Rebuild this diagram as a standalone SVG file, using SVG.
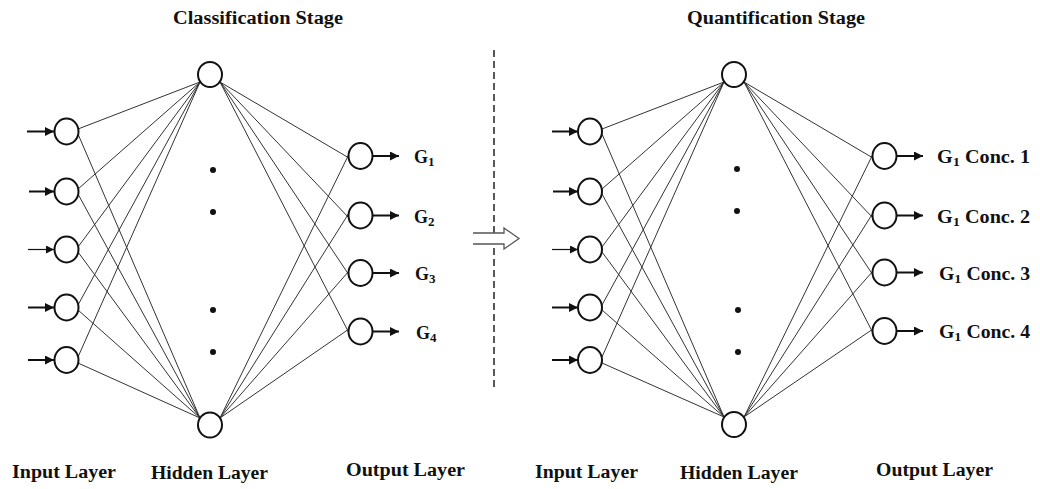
<svg xmlns="http://www.w3.org/2000/svg" width="1040" height="489" viewBox="0 0 1040 489">
  <style>
    .txt { font-family: "Liberation Serif", "Times New Roman", serif; font-weight: bold; fill: #111; }
    .title { font-size: 18px; }
    .lbl { font-size: 18px; }
    .node { fill: #fff; stroke: #111; stroke-width: 2; }
    .conn { stroke: #333; stroke-width: 1; fill: none; }
    .arr { stroke: #111; stroke-width: 2; fill: none; }
    .arrthin { stroke: #111; stroke-width: 1.2; fill: none; }
    .dot { fill: #111; }
  </style>
  <defs>
    <marker id="ah" markerWidth="9" markerHeight="9" refX="9" refY="4.5" orient="auto" markerUnits="userSpaceOnUse">
      <path d="M0,0 L9,4.5 L0,9 z" fill="#111"/>
    </marker>
    <marker id="ahs" markerWidth="8" markerHeight="8" refX="8" refY="4" orient="auto" markerUnits="userSpaceOnUse">
      <path d="M0,0 L8,4 L0,8 z" fill="#111"/>
    </marker>
  </defs>
  <rect width="1040" height="489" fill="#fff"/>

  <!-- Titles -->
  <text class="txt title" x="173" y="24" textLength="170" lengthAdjust="spacingAndGlyphs">Classification Stage</text>
  <text class="txt title" x="687" y="24" textLength="178" lengthAdjust="spacingAndGlyphs">Quantification Stage</text>

  <!-- Divider and stage arrow -->
  <g id="divider">
    <line x1="494" y1="50" x2="494" y2="390" stroke="#222" stroke-width="1.5" stroke-dasharray="7,4"/>
    <polygon points="473,233 504,233 504,228 519,238.5 504,249 504,244 473,244" fill="#fff" stroke="none"/>
    <path d="M473,233 H504 V228 L519,238.5 L504,249 V244 H473" fill="none" stroke="#555" stroke-width="1.3"/>
  </g>

  <!-- Connectors -->
  <g id="connectors">
    <!-- left network: inputs to hidden -->
    <line class="conn" x1="78" y1="129" x2="200" y2="82"/>
    <line class="conn" x1="78" y1="189" x2="200" y2="82"/>
    <line class="conn" x1="78" y1="247" x2="200" y2="82"/>
    <line class="conn" x1="78" y1="305" x2="200" y2="82"/>
    <line class="conn" x1="78" y1="357" x2="200" y2="82"/>
    <line class="conn" x1="78" y1="134" x2="200" y2="418"/>
    <line class="conn" x1="78" y1="194" x2="200" y2="418"/>
    <line class="conn" x1="78" y1="252" x2="200" y2="418"/>
    <line class="conn" x1="78" y1="310" x2="200" y2="418"/>
    <line class="conn" x1="78" y1="363" x2="200" y2="418"/>
    <!-- left network: hidden to outputs -->
    <line class="conn" x1="220" y1="82" x2="349" y2="158"/>
    <line class="conn" x1="220" y1="82" x2="349" y2="218"/>
    <line class="conn" x1="220" y1="82" x2="349" y2="275"/>
    <line class="conn" x1="220" y1="82" x2="349" y2="333"/>
    <line class="conn" x1="220" y1="418" x2="349" y2="154"/>
    <line class="conn" x1="220" y1="418" x2="349" y2="213"/>
    <line class="conn" x1="220" y1="418" x2="349" y2="271"/>
    <line class="conn" x1="220" y1="418" x2="349" y2="329"/>
    <!-- right network: inputs to hidden -->
    <line class="conn" x1="602" y1="129" x2="724" y2="82"/>
    <line class="conn" x1="602" y1="189" x2="724" y2="82"/>
    <line class="conn" x1="602" y1="247" x2="724" y2="82"/>
    <line class="conn" x1="602" y1="305" x2="724" y2="82"/>
    <line class="conn" x1="602" y1="357" x2="724" y2="82"/>
    <line class="conn" x1="602" y1="134" x2="724" y2="417"/>
    <line class="conn" x1="602" y1="194" x2="724" y2="417"/>
    <line class="conn" x1="602" y1="252" x2="724" y2="417"/>
    <line class="conn" x1="602" y1="310" x2="724" y2="417"/>
    <line class="conn" x1="602" y1="363" x2="724" y2="417"/>
    <!-- right network: hidden to outputs -->
    <line class="conn" x1="744" y1="82" x2="873" y2="158"/>
    <line class="conn" x1="744" y1="82" x2="873" y2="218"/>
    <line class="conn" x1="744" y1="82" x2="873" y2="275"/>
    <line class="conn" x1="744" y1="82" x2="873" y2="333"/>
    <line class="conn" x1="744" y1="417" x2="873" y2="154"/>
    <line class="conn" x1="744" y1="417" x2="873" y2="213"/>
    <line class="conn" x1="744" y1="417" x2="873" y2="271"/>
    <line class="conn" x1="744" y1="417" x2="873" y2="329"/>

    <!-- input arrows left -->
    <line class="arr" x1="27" y1="131.5" x2="54" y2="131.5" marker-end="url(#ah)"/>
    <line class="arr" x1="29" y1="191.5" x2="54" y2="191.5" marker-end="url(#ah)"/>
    <line class="arrthin" x1="28" y1="249.5" x2="54" y2="249.5" marker-end="url(#ahs)"/>
    <line class="arr" x1="28" y1="307.5" x2="54" y2="307.5" marker-end="url(#ah)"/>
    <line class="arr" x1="28" y1="360" x2="54" y2="360" marker-end="url(#ah)"/>
    <!-- output arrows left -->
    <line class="arr" x1="373" y1="156" x2="399" y2="156" marker-end="url(#ah)"/>
    <line class="arr" x1="373" y1="215.5" x2="399" y2="215.5" marker-end="url(#ah)"/>
    <line class="arr" x1="373" y1="273" x2="399" y2="273" marker-end="url(#ah)"/>
    <line class="arr" x1="373" y1="331.5" x2="399" y2="331.5" marker-end="url(#ah)"/>
    <!-- input arrows right -->
    <line class="arr" x1="552" y1="131.5" x2="578" y2="131.5" marker-end="url(#ah)"/>
    <line class="arr" x1="553" y1="191.5" x2="578" y2="191.5" marker-end="url(#ah)"/>
    <line class="arrthin" x1="552" y1="249.5" x2="578" y2="249.5" marker-end="url(#ahs)"/>
    <line class="arr" x1="552" y1="307.5" x2="578" y2="307.5" marker-end="url(#ah)"/>
    <line class="arr" x1="552" y1="360" x2="578" y2="360" marker-end="url(#ah)"/>
    <!-- output arrows right -->
    <line class="arr" x1="897" y1="156" x2="923" y2="156" marker-end="url(#ah)"/>
    <line class="arr" x1="897" y1="215.5" x2="923" y2="215.5" marker-end="url(#ah)"/>
    <line class="arr" x1="897" y1="272.5" x2="923" y2="272.5" marker-end="url(#ah)"/>
    <line class="arr" x1="897" y1="331" x2="923" y2="331" marker-end="url(#ah)"/>
  </g>

  <!-- Left network nodes -->
  <g id="cls-in1"><ellipse class="node" cx="66.5" cy="131.5" rx="12" ry="13"/></g>
  <g id="cls-in2"><ellipse class="node" cx="66.5" cy="191.5" rx="12" ry="13"/></g>
  <g id="cls-in3"><ellipse class="node" cx="66.5" cy="249.5" rx="12" ry="13"/></g>
  <g id="cls-in4"><ellipse class="node" cx="66.5" cy="307.5" rx="12" ry="13"/></g>
  <g id="cls-in5"><ellipse class="node" cx="66.5" cy="360" rx="12" ry="13"/></g>
  <g id="cls-h1"><ellipse class="node" cx="210" cy="74.5" rx="12" ry="12.5"/></g>
  <g id="cls-h2"><ellipse class="node" cx="210" cy="425" rx="12" ry="12.5"/></g>
  <g id="cls-dots">
    <circle class="dot" cx="213" cy="170" r="3"/>
    <circle class="dot" cx="213" cy="212" r="3"/>
    <circle class="dot" cx="213" cy="310" r="3"/>
    <circle class="dot" cx="213" cy="352" r="3"/>
  </g>
  <g id="cls-out1"><ellipse class="node" cx="360.5" cy="156" rx="12" ry="13"/>
    <text class="txt lbl" x="414" y="163">G<tspan font-size="13" dy="3">1</tspan></text></g>
  <g id="cls-out2"><ellipse class="node" cx="360.5" cy="215.5" rx="12" ry="13"/>
    <text class="txt lbl" x="414" y="222.5">G<tspan font-size="13" dy="3">2</tspan></text></g>
  <g id="cls-out3"><ellipse class="node" cx="360.5" cy="273" rx="12" ry="13"/>
    <text class="txt lbl" x="415" y="280">G<tspan font-size="13" dy="3">3</tspan></text></g>
  <g id="cls-out4"><ellipse class="node" cx="360.5" cy="331.5" rx="12" ry="13"/>
    <text class="txt lbl" x="416" y="338.5">G<tspan font-size="13" dy="3">4</tspan></text></g>

  <!-- Right network nodes -->
  <g id="qnt-in1"><ellipse class="node" cx="590" cy="131.5" rx="12" ry="13"/></g>
  <g id="qnt-in2"><ellipse class="node" cx="590" cy="191.5" rx="12" ry="13"/></g>
  <g id="qnt-in3"><ellipse class="node" cx="590" cy="249.5" rx="12" ry="13"/></g>
  <g id="qnt-in4"><ellipse class="node" cx="590" cy="307.5" rx="12" ry="13"/></g>
  <g id="qnt-in5"><ellipse class="node" cx="590" cy="360" rx="12" ry="13"/></g>
  <g id="qnt-h1"><ellipse class="node" cx="734" cy="74.5" rx="12" ry="12.5"/></g>
  <g id="qnt-h2"><ellipse class="node" cx="734" cy="424.5" rx="12" ry="12.5"/></g>
  <g id="qnt-dots">
    <circle class="dot" cx="737" cy="169" r="3"/>
    <circle class="dot" cx="737" cy="211" r="3"/>
    <circle class="dot" cx="738" cy="310" r="3"/>
    <circle class="dot" cx="738" cy="352" r="3"/>
  </g>
  <g id="qnt-out1"><ellipse class="node" cx="884.5" cy="156" rx="12" ry="13"/>
    <text class="txt lbl" x="937" y="163" textLength="93" lengthAdjust="spacingAndGlyphs">G<tspan font-size="13" dy="3">1</tspan><tspan dy="-3"> Conc. 1</tspan></text></g>
  <g id="qnt-out2"><ellipse class="node" cx="884.5" cy="215.5" rx="12" ry="13"/>
    <text class="txt lbl" x="937" y="222.5" textLength="93" lengthAdjust="spacingAndGlyphs">G<tspan font-size="13" dy="3">1</tspan><tspan dy="-3"> Conc. 2</tspan></text></g>
  <g id="qnt-out3"><ellipse class="node" cx="884.5" cy="272.5" rx="12" ry="13"/>
    <text class="txt lbl" x="939" y="279.5" textLength="91" lengthAdjust="spacingAndGlyphs">G<tspan font-size="13" dy="3">1</tspan><tspan dy="-3"> Conc. 3</tspan></text></g>
  <g id="qnt-out4"><ellipse class="node" cx="884.5" cy="331" rx="12" ry="13"/>
    <text class="txt lbl" x="939" y="338" textLength="91" lengthAdjust="spacingAndGlyphs">G<tspan font-size="13" dy="3">1</tspan><tspan dy="-3"> Conc. 4</tspan></text></g>

  <!-- Layer labels -->
  <text class="txt lbl" x="12" y="478" textLength="104" lengthAdjust="spacingAndGlyphs">Input Layer</text>
  <text class="txt lbl" x="151" y="479" textLength="117" lengthAdjust="spacingAndGlyphs">Hidden Layer</text>
  <text class="txt lbl" x="346" y="476" textLength="119" lengthAdjust="spacingAndGlyphs">Output Layer</text>
  <text class="txt lbl" x="535" y="478" textLength="103" lengthAdjust="spacingAndGlyphs">Input Layer</text>
  <text class="txt lbl" x="680" y="479" textLength="118" lengthAdjust="spacingAndGlyphs">Hidden Layer</text>
  <text class="txt lbl" x="876" y="476" textLength="117" lengthAdjust="spacingAndGlyphs">Output Layer</text>
</svg>
